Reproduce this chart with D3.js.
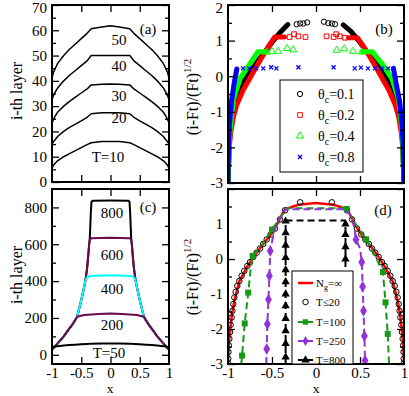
<!DOCTYPE html>
<html><head><meta charset="utf-8">
<script src="https://cdn.jsdelivr.net/npm/d3@7"></script>
<style>body{margin:0;background:#fff}svg{display:block;font-family:"Liberation Serif","Times New Roman",serif}</style>
</head><body><svg id="c" width="409" height="396"></svg>
<script>
// ---------- Panel (a) ----------
const aX   = [-1,-0.98,-0.95,-0.9,-0.8,-0.7,-0.6,-0.5,-0.4,-0.33,-0.15,0,0.15,0.33,0.4,0.5,0.6,0.7,0.8,0.9,0.95,0.98,1];
const aT50 = [41,43,44.7,47,50,52.5,54.6,56.7,58.8,60.6,61.3,61.8,61.3,60.6,58.8,56.7,54.6,52.5,50,47,44.7,43,41];
const aT40 = [32.5,33.9,35.3,37.3,40,42.2,44.1,46,47.9,50,50,50,50,50,47.9,46,44.1,42.2,40,37.3,35.3,33.9,32.5];
const aT30 = [23.3,24.5,25.9,27.7,30,31.9,33.6,35.2,36.8,38.4,38.7,38.8,38.7,38.4,36.8,35.2,33.6,31.9,30,27.7,25.9,24.5,23.3];
const aT20 = [15,15.8,16.6,18.1,20,21.6,22.9,24.2,25.6,27,27.4,27.4,27.4,27,25.6,24.2,22.9,21.6,20,18.1,16.6,15.8,15];
const aT10 = [5.5,6.4,7.3,8.5,10,11.2,12.4,13.6,14.8,15.5,16,16,16,15.5,14.8,13.6,12.4,11.2,10,8.5,7.3,6.4,5.5];
const aTicks = [0,10,20,30,40,50,60,70];

// ---------- Panel (b) ----------
const bBlackX = [-1,-0.98,-0.95,-0.9,-0.8,-0.7,-0.6,-0.5,-0.4,-0.32,0,0.31,0.4,0.5,0.6,0.7,0.8,0.9,0.95,0.98,1];
const bBlackY = [-3,-1.6,-1.0,-0.55,-0.05,0.3,0.62,0.95,1.25,1.45,null,1.44,1.25,0.95,0.62,0.3,-0.05,-0.55,-1.0,-1.6,-3];
const bRedX = [-1,-0.99,-0.97,-0.94,-0.9,-0.83,-0.75,-0.67,-0.55,-0.47,-0.36,0,0.37,0.47,0.55,0.67,0.75,0.83,0.9,0.94,0.97,0.99,1];
const bRedY = [-3,-2.1,-1.6,-1.15,-0.8,-0.4,-0.05,0.3,0.8,1.1,1.1,null,1.08,1.08,0.8,0.3,-0.05,-0.4,-0.8,-1.15,-1.6,-2.1,-3];
const bGreenX = [-1,-0.98,-0.94,-0.86,-0.75,-0.66,-0.58,0,0.53,0.64,0.75,0.86,0.94,0.98,1];
const bGreenY = [-3,-1.6,-0.67,-0.05,0.35,0.69,0.69,null,0.69,0.69,0.35,-0.05,-0.67,-1.6,-3];
const bBlueX = [-1,-0.995,-0.985,-0.96,-0.93,-0.9,0,0.88,0.91,0.95,0.98,0.995,1];
const bBlueY = [-3,-2.2,-1.4,-0.7,-0.2,0.2,null,0.22,-0.2,-0.7,-1.4,-2.2,-3];
const bCircX = [-0.22,-0.18,-0.144,-0.1,0.09,0.14,0.18,0.216];
const bCircY = [1.46,1.48,1.48,1.51,1.53,1.49,1.48,1.46];
const bSqX = [-0.3,-0.25,-0.2,-0.12,0.12,0.2,0.23,0.27,0.33];
const bSqY = [1.1,1.18,1.12,1.1,1.12,1.1,1.18,1.12,1.08];
const bTriX = [-0.56,-0.5,-0.43,-0.33,-0.26,0.235,0.32,0.42,0.52];
const bTriY = [0.68,0.69,0.7,0.78,0.74,0.73,0.77,0.7,0.68];
const bCrossX = [-0.83,-0.76,-0.68,-0.6,-0.51,-0.45,-0.2,0.2,0.44,0.51,0.59,0.67,0.75,0.82];
const bCrossY = [0.22,0.22,0.22,0.22,0.25,0.22,0.25,0.25,0.22,0.24,0.22,0.22,0.22,0.22];
const bTicks = [-3,-2,-1,0,1,2];
const bLegend = ["0.1","0.2","0.4","0.8"];

// ---------- Panel (c) ----------
const cT800X = [-1,-0.95,-0.88,-0.8,-0.72,-0.65,-0.6,-0.57,-0.52,-0.47,-0.43,-0.4,-0.38,-0.365,-0.355,-0.345,-0.335,-0.325,-0.31,0,0.31,0.325,0.335,0.345,0.355,0.365,0.38,0.4,0.43,0.47,0.52,0.57,0.6,0.65,0.72,0.8,0.88,0.95,1];
const cT800Y = [28,45,70,100,135,165,190,207,270,340,400,470,540,600,625,700,780,830,836,837,836,830,780,700,625,600,540,470,400,340,270,207,190,165,135,100,70,45,28];
const cT600X = [-1,-0.95,-0.88,-0.8,-0.72,-0.65,-0.6,-0.57,-0.52,-0.47,-0.43,-0.4,-0.38,-0.365,-0.355,-0.33,0,0.33,0.355,0.365,0.38,0.4,0.43,0.47,0.52,0.57,0.6,0.65,0.72,0.8,0.88,0.95,1];
const cT600Y = [28,45,70,100,135,165,190,207,270,340,400,470,540,600,625,632,635,632,625,600,540,470,400,340,270,207,190,165,135,100,70,45,28];
const cT400X = [-1,-0.95,-0.88,-0.8,-0.72,-0.65,-0.6,-0.57,-0.52,-0.47,-0.43,-0.41,-0.35,0,0.35,0.41,0.43,0.47,0.52,0.57,0.6,0.65,0.72,0.8,0.88,0.95,1];
const cT400Y = [28,45,70,100,135,165,190,207,270,340,400,418,428,432,428,418,400,340,270,207,190,165,135,100,70,45,28];
const cT200X = [-1,-0.95,-0.88,-0.8,-0.72,-0.65,-0.6,-0.57,-0.45,-0.2,0,0.2,0.45,0.57,0.6,0.65,0.72,0.8,0.88,0.95,1];
const cT200Y = [28,45,70,100,135,165,190,207,216,222,224,222,216,207,190,165,135,100,70,45,28];
const cT50X = aX;
const cT50Y = aT50;
const cTicks = [0,200,400,600,800];
const cMinor = [100,300,500,700];

// ---------- Panel (d) ----------
const dRedX = [-1,-0.99,-0.97,-0.95,-0.92,-0.87,-0.8,-0.75,-0.7,-0.6,-0.5,-0.43,-0.38,-0.35,-0.2,0,0.2,0.35,0.38,0.43,0.5,0.6,0.7,0.75,0.8,0.87,0.92,0.95,0.97,0.99,1];
const dRedY = [-3,-2.4,-1.9,-1.5,-1.1,-0.63,-0.3,-0.09,0.1,0.43,0.75,1.05,1.3,1.42,1.55,1.6,1.55,1.42,1.3,1.05,0.75,0.43,0.1,-0.09,-0.3,-0.63,-1.1,-1.5,-1.9,-2.4,-3];
const dCircX = [-0.997,-0.997,-0.995,-0.99,-0.985,-0.977,-0.97,-0.958,-0.95,-0.94,-0.928,-0.913,-0.894,-0.871,-0.845,-0.815,-0.78,-0.75,-0.712,-0.674,-0.636,-0.6,-0.56,-0.515,-0.466,-0.41,-0.352,-0.18,
                0.18,0.352,0.41,0.466,0.515,0.56,0.6,0.636,0.674,0.712,0.75,0.78,0.815,0.845,0.871,0.894,0.913,0.928,0.94,0.95,0.958,0.97,0.977,0.985,0.99,0.995,0.997,0.997];
const dCircY = [-2.99,-2.85,-2.66,-2.47,-2.28,-2.09,-1.88,-1.67,-1.48,-1.29,-1.1,-0.94,-0.77,-0.63,-0.48,-0.34,-0.2,-0.09,0.06,0.18,0.3,0.43,0.56,0.7,0.87,1.13,1.39,1.62,
                1.62,1.39,1.13,0.87,0.7,0.56,0.43,0.3,0.18,0.06,-0.09,-0.2,-0.34,-0.48,-0.63,-0.77,-0.94,-1.1,-1.29,-1.48,-1.67,-1.88,-2.09,-2.28,-2.47,-2.66,-2.85,-2.99];
const dT100X = [-0.85,-0.84,-0.81,-0.77,-0.745,-0.72,-0.6,-0.5,-0.4,-0.35,-0.3,0.3,0.35,0.45,0.57,0.68,0.76,0.79,0.815,0.83];
const dT100Y = [-3,-2.76,-1.84,-0.96,-0.35,0.09,0.45,0.84,1.2,1.42,1.45,1.45,1.43,1.0,0.56,0.05,-0.37,-1.24,-2.14,-3];
const dT100MX = [-0.84,-0.81,-0.77,-0.72,-0.5,0.35,0.57,0.76,0.79,0.815];
const dT100MY = [-2.76,-1.84,-0.96,0.09,0.84,1.43,0.56,-0.37,-1.24,-2.14];
const dT250X = [-0.565,-0.56,-0.553,-0.54,-0.53,-0.52,-0.48,-0.42,-0.37,-0.33,0.33,0.38,0.43,0.455,0.5,0.52,0.53,0.54,0.55,0.557,0.56];
const dT250Y = [-3,-2.57,-1.86,-1.16,-0.48,0.23,0.75,1.15,1.38,1.42,1.42,1.3,0.95,0.56,0.3,-0.09,-0.79,-1.48,-2.2,-2.9,-3];
const dT250MX = [-0.56,-0.553,-0.54,-0.53,-0.52,0.455,0.52,0.53,0.54,0.55,0.557];
const dT250MY = [-2.57,-1.86,-1.16,-0.48,0.23,0.56,-0.09,-0.79,-1.48,-2.2,-2.9];
const dT800X = [-0.345,-0.345,-0.34,0.33,0.335,0.335];
const dT800Y = [-3,1.0,1.1,1.1,1.0,-3];
const dT800MX = [-0.345,-0.345,-0.345,-0.345,-0.345,-0.345,-0.345,-0.345,-0.345,-0.345,-0.345,-0.345,0.335,0.335,0.335,0.335];
const dT800MY = [1.08,0.75,0.39,0.04,-0.31,-0.65,-1.0,-1.34,-1.7,-2.05,-2.42,-2.8,1.0,0.7,0.35,0.0];
const dTicks = [-3,-2,-1,0,1];
const dLegend = ["T\u226420","T=100","T=250","T=800"];

const xTicks = [-1,-0.5,0,0.5,1];

// ---------- drawing ----------
const svg = d3.select("#c");
const GREEN = "#159a15", VIOLET = "#9133d6", MAROON = "#6b0a4a";
const fmt = d => String(d);
let clipId = 0;

function panel(box, yDomain, yMajor, yMinor, showY, showX) {
  const x = d3.scaleLinear().domain([-1, 1]).range([box.l, box.r]);
  const y = d3.scaleLinear().domain(yDomain).range([box.b, box.t]);
  const g = svg.append("g");
  const id = "clip" + (clipId++);
  svg.append("clipPath").attr("id", id).append("rect")
    .attr("x", box.l).attr("y", box.t).attr("width", box.r - box.l).attr("height", box.b - box.t);
  const plot = g.append("g").attr("clip-path", `url(#${id})`);
  const axes = svg.append("g").attr("class","axes");
  const style = sel => { sel.select(".domain").remove(); sel.selectAll("line").attr("stroke","#000").attr("stroke-width",1.3);
    sel.selectAll("text").attr("font-size",15).attr("fill","#000").attr("font-family","Liberation Serif, serif"); };
  const left = axes.append("g").attr("transform",`translate(${box.l},0)`)
    .call(d3.axisLeft(y).tickValues(yMajor).tickSizeInner(-7).tickSizeOuter(0).tickPadding(5).tickFormat(showY ? fmt : ""))
    .call(style);
  left.selectAll("text").filter(d => y(d) < 8).attr("dy","0.72em").attr("y", 0).attr("transform","translate(0,-3)");
  axes.append("g").attr("transform",`translate(${box.l},0)`)
    .call(d3.axisLeft(y).tickValues(yMinor).tickSizeInner(-4).tickSizeOuter(0).tickFormat("")).call(style);
  axes.append("g").attr("transform",`translate(${box.r},0)`)
    .call(d3.axisRight(y).tickValues(yMajor).tickSizeInner(-7).tickSizeOuter(0).tickFormat("")).call(style);
  axes.append("g").attr("transform",`translate(${box.r},0)`)
    .call(d3.axisRight(y).tickValues(yMinor).tickSizeInner(-4).tickSizeOuter(0).tickFormat("")).call(style);
  axes.append("g").attr("transform",`translate(0,${box.t})`)
    .call(d3.axisTop(x).tickValues([-0.5,0,0.5]).tickSizeInner(-7).tickSizeOuter(0).tickFormat("")).call(style);
  axes.append("g").attr("transform",`translate(0,${box.b})`)
    .call(d3.axisBottom(x).tickValues(showX ? xTicks : [-0.5,0,0.5]).tickSizeInner(-7).tickSizeOuter(0).tickPadding(3).tickFormat(showX ? fmt : ""))
    .call(style);
  if (showX) axes.selectAll("g.tick").filter(d => d === -1 || d === 1).select("line").remove();
  axes.append("rect").attr("x",box.l).attr("y",box.t).attr("width",box.r-box.l).attr("height",box.b-box.t)
    .attr("fill","none").attr("stroke","#000").attr("stroke-width",2);
  return {x, y, g, plot, axes, box};
}

function lineOf(P, xs, ys, color, width, dash) {
  const pts = xs.map((v,i) => [v, ys[i]]);
  const gen = d3.line().defined(d => d[1] !== null).x(d => P.x(d[0])).y(d => P.y(d[1]));
  return P.plot.append("path").attr("d", gen(pts)).attr("fill","none").attr("stroke",color)
    .attr("stroke-width",width).attr("stroke-dasharray", dash || null).attr("stroke-linejoin","round");
}
function markers(P, xs, ys, type, size, fill, stroke, sw) {
  const sym = d3.symbol().type(type).size(size);
  P.plot.append("g").selectAll("path").data(xs.map((v,i)=>[v,ys[i]])).join("path")
    .attr("transform", d => `translate(${P.x(d[0])},${P.y(d[1])})`).attr("d", sym())
    .attr("fill", fill).attr("stroke", stroke).attr("stroke-width", sw);
}
function label(x, y, txt, size) {
  svg.append("text").attr("x",x).attr("y",y).attr("text-anchor","middle").attr("font-size",size||15).text(txt);
}

// Panel a
const A = panel({l:52, r:169, t:5, b:182}, [0,70], aTicks, [5,15,25,35,45,55,65], true, false);
[aT50,aT40,aT30,aT20,aT10].forEach(s => lineOf(A, aX, s, "#000", 1.5));
label(119, 45, "50"); label(119, 71, "40"); label(119, 101, "30"); label(119, 123, "20"); label(108, 162, "T=10");
label(148, 34, "(a)");

// Panel b
const B = panel({l:228, r:404, t:5, b:183}, [-3,2], bTicks, [-2.5,-1.5,-0.5,0.5,1.5], true, false);
lineOf(B, bBlackX, bBlackY, "#000", 5).attr("stroke-linecap","round");
lineOf(B, bRedX, bRedY, "#ff0000", 5).attr("stroke-linecap","round");
lineOf(B, bGreenX, bGreenY, "#00ff00", 5).attr("stroke-linecap","round");
lineOf(B, bBlueX, bBlueY, "#0000ff", 5).attr("stroke-linecap","round");
markers(B, bCircX, bCircY, d3.symbolCircle, 22, "none", "#000", 1);
markers(B, bSqX, bSqY, d3.symbolSquare, 22, "none", "#ff0000", 1);
markers(B, bTriX, bTriY, d3.symbolTriangle, 22, "none", "#00ff00", 1);
B.plot.append("g").selectAll("path").data(bCrossX.map((v,i)=>[v,bCrossY[i]])).join("path")
  .attr("d", d => { const cx=B.x(d[0]), cy=B.y(d[1]); return `M${cx-2},${cy-2}L${cx+2},${cy+2}M${cx-2},${cy+2}L${cx+2},${cy-2}`; })
  .attr("stroke","#0000ff").attr("stroke-width",1.3);
label(384, 34, "(b)");
const lb = svg.append("g");
lb.append("rect").attr("x",280).attr("y",80).attr("width",83).attr("height",92).attr("fill","#fff").attr("stroke","#000").attr("stroke-width",1);
const lbSym = [[d3.symbolCircle,"#000"],[d3.symbolSquare,"#ff0000"],[d3.symbolTriangle,"#00ff00"],[null,"#0000ff"]];
[94,115,136,157].forEach((cy,i) => {
  if (lbSym[i][0]) lb.append("path").attr("transform",`translate(300,${cy})`).attr("d", d3.symbol().type(lbSym[i][0]).size(22)())
      .attr("fill","none").attr("stroke",lbSym[i][1]).attr("stroke-width",1);
  else lb.append("path").attr("d",`M298,${cy-2}L302,${cy+2}M298,${cy+2}L302,${cy-2}`).attr("stroke","#0000ff").attr("stroke-width",1.3);
  const t = lb.append("text").attr("x",318).attr("y",cy+5).attr("font-size",14);
  t.append("tspan").text("\u03b8");
  t.append("tspan").attr("font-size",10).attr("dy",4).text("c");
  t.append("tspan").attr("dy",-4).text("=" + bLegend[i]);
});

// Panel c
const C = panel({l:52, r:169, t:189, b:364}, [-50,900], cTicks, cMinor, true, true);
lineOf(C, cT800X, cT800Y, "#000", 2);
lineOf(C, cT600X, cT600Y, MAROON, 2);
lineOf(C, cT400X, cT400Y, "#00ffff", 2);
lineOf(C, cT200X, cT200Y, MAROON, 2);
lineOf(C, cT50X, cT50Y, "#000", 2);
label(112, 218, "800"); label(112, 260, "600"); label(112, 294, "400"); label(112, 330, "200"); label(109, 358, "T=50");
label(148, 212, "(c)");

// Panel d
const D = panel({l:228, r:404, t:189, b:364}, [-3,2], dTicks.concat([2]), [-2.5,-1.5,-0.5,0.5,1.5], true, true);
D.axes.selectAll("text").filter(d => d === 2).remove();
lineOf(D, dRedX, dRedY, "#ff0000", 2.5);
markers(D, dCircX, dCircY, d3.symbolCircle, 24, "none", "#000", 1);
lineOf(D, dT100X, dT100Y, GREEN, 2, "7,4");
markers(D, dT100MX, dT100MY, d3.symbolSquare, 36, GREEN, GREEN, 0);
lineOf(D, dT250X, dT250Y, VIOLET, 2, "7,4");
markers(D, dT250MX, dT250MY, d3.symbolDiamond, 40, VIOLET, VIOLET, 0);
lineOf(D, dT800X, dT800Y, "#000", 2, "7,4");
markers(D, dT800MX, dT800MY, d3.symbolTriangle, 30, "#000", "#000", 0);
label(383, 215, "(d)");
const ld = svg.append("g");
ld.append("rect").attr("x",292).attr("y",271).attr("width",61).attr("height",93).attr("fill","#fff").attr("stroke","#000").attr("stroke-width",1);
ld.append("line").attr("x1",298).attr("x2",313).attr("y1",283).attr("y2",283).attr("stroke","#ff0000").attr("stroke-width",2.5);
const t0 = ld.append("text").attr("x",316).attr("y",287).attr("font-size",11);
t0.append("tspan").text("N"); t0.append("tspan").attr("font-size",8).attr("dy",3).text("g"); t0.append("tspan").attr("dy",-3).text("=\u221e");
const ldRows = [[302,null,"#000"],[322,d3.symbolSquare,GREEN],[341,d3.symbolDiamond,VIOLET],[360,d3.symbolTriangle,"#000"]];
ldRows.forEach((r,i) => {
  const cy = r[0];
  if (i === 0) {
    ld.append("path").attr("transform",`translate(305.5,${cy})`).attr("d", d3.symbol().type(d3.symbolCircle).size(24)())
      .attr("fill","none").attr("stroke","#000").attr("stroke-width",1);
  } else {
    ld.append("line").attr("x1",298).attr("x2",313).attr("y1",cy).attr("y2",cy).attr("stroke",r[2]).attr("stroke-width",2);
    ld.append("path").attr("transform",`translate(305.5,${cy})`).attr("d", d3.symbol().type(r[1]).size(30)()).attr("fill",r[2]);
  }
  ld.append("text").attr("x",316).attr("y",cy+4).attr("font-size",11).text(dLegend[i]);
});

function yTitle(x, y, main, sup) {
  const t = svg.append("text").attr("transform",`translate(${x},${y}) rotate(-90)`).attr("text-anchor","middle").attr("font-size",16);
  t.append("tspan").text(main);
  if (sup) t.append("tspan").attr("font-size",11).attr("dy",-7).text(sup);
}
yTitle(22, 91, "i-th layer");
yTitle(22, 275, "i-th layer");
yTitle(198, 97, "(i-Ft)/(Ft)", "1/2");
yTitle(198, 277, "(i-Ft)/(Ft)", "1/2");
label(110, 393, "x", 13.5);
label(316, 393, "x", 13.5);
</script></body></html>
